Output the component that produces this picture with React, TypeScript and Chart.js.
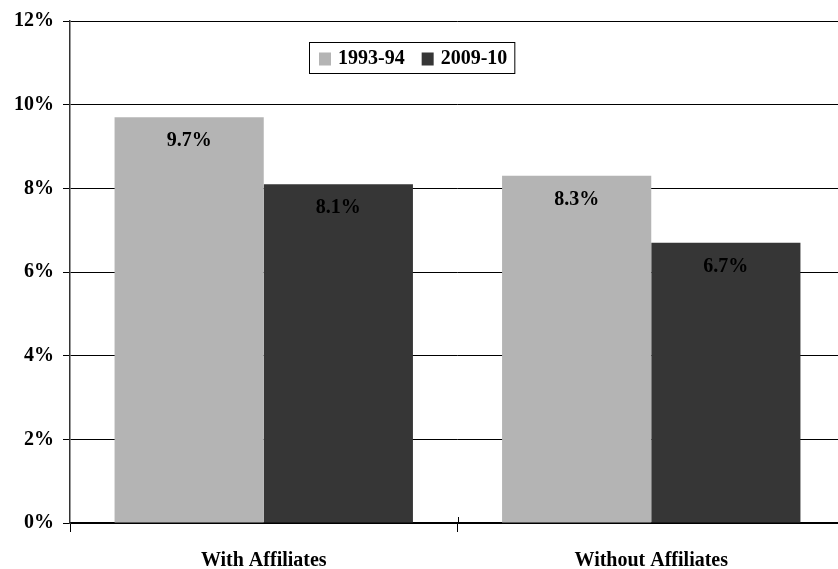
import React, { useEffect, useRef } from "react";
import { Chart, registerables } from "chart.js";

Chart.register(...registerables);

const categories = ["With Affiliates", "Without Affiliates"];
const seriesLabels = ["1993-94", "2009-10"];
const values1993 = [9.7, 8.3];
const values2009 = [8.1, 6.7];
const seriesColors = ["#b4b4b4", "#363636"];
const yTicks = [0, 2, 4, 6, 8, 10, 12];

const FONT_FAMILY = "'Liberation Serif', 'Times New Roman', Times, serif";

const valueLabelPlugin = {
  id: "valueLabels",
  afterDatasetsDraw(chart: any) {
    const ctx = chart.ctx;
    ctx.save();
    ctx.font = `bold 20px ${FONT_FAMILY}`;
    ctx.fillStyle = "#000";
    ctx.textAlign = "center";
    ctx.textBaseline = "middle";
    chart.data.datasets.forEach((ds: any, i: number) => {
      const meta = chart.getDatasetMeta(i);
      meta.data.forEach((bar: any, j: number) => {
        ctx.fillText(`${Number(ds.data[j]).toFixed(1)}%`, bar.x, bar.y + 24);
      });
    });
    ctx.restore();
  },
};

const boxedLegendPlugin = {
  id: "boxedLegend",
  afterDraw(chart: any) {
    const ctx = chart.ctx;
    const left = 309;
    const top = 42;
    const height = 31;
    const sw = 12;
    ctx.save();
    ctx.font = `bold 20px ${FONT_FAMILY}`;
    ctx.textBaseline = "middle";
    ctx.textAlign = "left";
    let x = left + 10;
    const cy = top + height / 2 + 1;
    const items = chart.data.datasets.map((ds: any) => ({
      label: ds.label,
      color: ds.backgroundColor,
    }));
    const positions: { x: number; w: number }[] = [];
    items.forEach((it: any, i: number) => {
      const w = ctx.measureText(it.label).width;
      positions.push({ x, w });
      x += sw + 7 + w + (i < items.length - 1 ? 17 : 7);
    });
    const width = x - left;
    ctx.fillStyle = "#fff";
    ctx.fillRect(left, top, width, height);
    ctx.strokeStyle = "#000";
    ctx.lineWidth = 1;
    ctx.strokeRect(left + 0.5, top + 0.5, width, height);
    items.forEach((it: any, i: number) => {
      const p = positions[i];
      ctx.fillStyle = it.color;
      ctx.fillRect(p.x, cy - 6, sw, 13);
      ctx.fillStyle = "#000";
      ctx.fillText(it.label, p.x + sw + 7, cy);
    });
    ctx.restore();

    // category separator tick crossing the baseline
    const xs = chart.scales.x;
    const bottom = chart.chartArea.bottom;
    const mid = (xs.getPixelForValue(0) + xs.getPixelForValue(1)) / 2;
    ctx.save();
    ctx.strokeStyle = "#000";
    ctx.lineWidth = 1;
    ctx.beginPath();
    ctx.moveTo(Math.round(mid) + 0.5, bottom - 6);
    ctx.lineTo(Math.round(mid) + 0.5, bottom);
    ctx.stroke();
    ctx.restore();
  },
};

export default function App() {
  const canvasRef = useRef<HTMLCanvasElement | null>(null);

  useEffect(() => {
    if (!canvasRef.current) return;
    const chart = new Chart(canvasRef.current, {
      type: "bar",
      data: {
        labels: categories,
        datasets: [
          {
            label: seriesLabels[0],
            data: values1993,
            backgroundColor: seriesColors[0],
            categoryPercentage: 0.77,
            barPercentage: 1,
          },
          {
            label: seriesLabels[1],
            data: values2009,
            backgroundColor: seriesColors[1],
            categoryPercentage: 0.77,
            barPercentage: 1,
          },
        ],
      },
      options: {
        responsive: false,
        animation: false,
        devicePixelRatio: 1,
        layout: { padding: { top: 19, right: 0, left: 0, bottom: 0 } },
        plugins: {
          legend: { display: false },
          tooltip: { enabled: false },
        },
        scales: {
          x: {
            grid: {
              display: true,
              offset: true,
              drawOnChartArea: false,
              drawTicks: true,
              tickLength: 9,
              color: "#000",
              lineWidth: 1,
            },
            border: { display: true, color: "#000", width: 1.5 },
            ticks: {
              color: "#000",
              padding: 17,
              font: { family: FONT_FAMILY, size: 20, weight: "bold" },
            },
            afterFit(scale: any) {
              scale.height = 46;
            },
          },
          y: {
            min: 0,
            max: 12,
            afterBuildTicks(scale: any) {
              scale.ticks = yTicks.map((v) => ({ value: v }));
            },
            grid: {
              color: "#000",
              lineWidth: 1,
              drawTicks: true,
              tickLength: 7,
            },
            border: { display: true, color: "#333", width: 1.5 },
            ticks: {
              color: "#000",
              padding: 9,
              font: { family: FONT_FAMILY, size: 20, weight: "bold" },
              callback: (v: any) => `${v}%`,
            },
            afterFit(scale: any) {
              scale.width = 70;
            },
          },
        },
      },
      plugins: [valueLabelPlugin, boxedLegendPlugin],
    });
    return () => chart.destroy();
  }, []);

  return (
    <div
      style={{
        position: "fixed",
        left: 0,
        top: 0,
        width: 838,
        height: 569,
        overflow: "hidden",
        background: "#fff",
      }}
    >
      <canvas
        ref={canvasRef}
        width={845}
        height={569}
        style={{ width: 845, height: 569, display: "block" }}
      />
    </div>
  );
}
